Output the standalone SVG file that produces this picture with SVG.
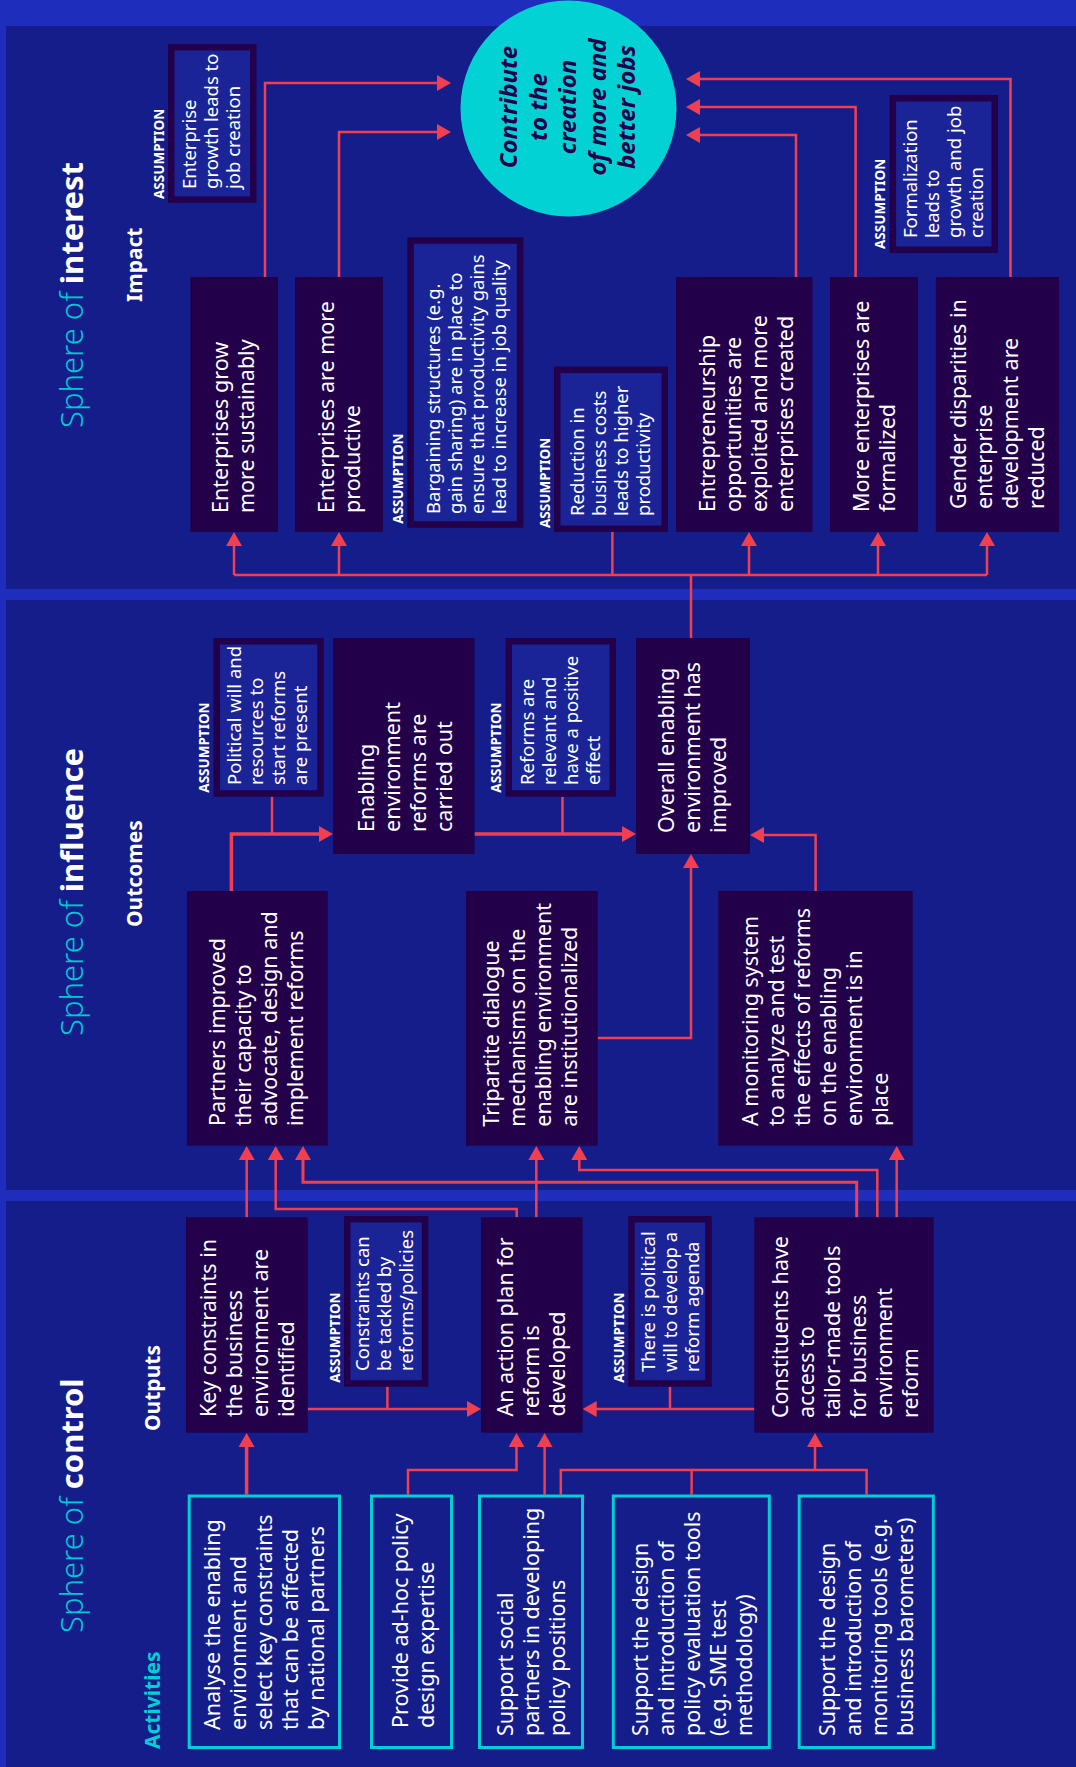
<svg xmlns="http://www.w3.org/2000/svg" width="1076" height="1767" viewBox="0 0 1076 1767">
<defs>
<style>
.panel{fill:#151d8b}
.node{fill:#23004a}
.asm{fill:#1b2496;stroke:#23004a;stroke-width:6.5}
.act{fill:#151d8b;stroke:#00cfd3;stroke-width:3}
text{font-family:"Noto Sans","Open Sans","Liberation Sans",sans-serif}
.nt{font-size:21.5px;fill:#ffffff}
.at{font-size:18.5px;fill:#ffffff}
.al{font-size:13.5px;font-weight:700;fill:#ffffff}
.hd{font-size:21px;font-weight:700;fill:#ffffff}
.ttl{font-size:31px}
.lt{font-weight:300;fill:#00c8d2}
.bd{font-weight:700;fill:#ffffff}
.ct{font-size:24px;font-weight:700;font-style:italic;fill:#23004a;text-anchor:middle}
.c{fill:none;stroke:#f23f4f;stroke-width:2.5}
.k{stroke-width:3.5}
.m{stroke-width:3}
</style>
<marker id="ah" viewBox="0 0 14 16" refX="10" refY="8" markerWidth="14" markerHeight="16" markerUnits="userSpaceOnUse" orient="auto"><path d="M0,0 L14,8 L0,16 z" fill="#f23f4f"/></marker>
</defs>

<rect x="0" y="0" width="1076" height="1767" fill="#1f2dbd"/>
<rect class="panel" x="6" y="26" width="1070" height="563"/>
<rect class="panel" x="6" y="600" width="1070" height="590"/>
<rect class="panel" x="6" y="1201" width="1070" height="566"/>

<g id="titles">
<text class="ttl" transform="translate(82.6,428) rotate(-90)"><tspan class="lt">Sphere of </tspan><tspan class="bd">interest</tspan></text>
<text class="ttl" transform="translate(82.6,1036) rotate(-90)"><tspan class="lt">Sphere of </tspan><tspan class="bd">influence</tspan></text>
<text class="ttl" transform="translate(82.6,1633) rotate(-90)"><tspan class="lt">Sphere of </tspan><tspan class="bd">control</tspan></text>
<text class="hd" transform="translate(142,302) rotate(-90)">Impact</text>
<text class="hd" transform="translate(142,927) rotate(-90)">Outcomes</text>
<text class="hd" transform="translate(160,1431) rotate(-90)">Outputs</text>
<text class="hd" transform="translate(160,1749) rotate(-90)" style="fill:#00cfd3">Activities</text>
</g>

<g id="connectors" marker-end="url(#ah)">
<path class="c" d="M265,277 V83 H447"/>
<path class="c" d="M339,277 V132 H447"/>
<path class="c" d="M1010.5,277 V79 H690"/>
<path class="c" d="M855.6,277 V107 H690"/>
<path class="c" d="M796,277 V135 H690"/>
<path class="c" d="M234,575 H987" marker-end="none"/>
<path class="c" d="M234,575 V536"/>
<path class="c" d="M339,575 V536"/>
<path class="c" d="M749,575 V536"/>
<path class="c" d="M878,575 V536"/>
<path class="c" d="M987,575 V536"/>
<path class="c" d="M612.4,532 V575" marker-end="none"/>
<path class="c" d="M691,638 V575" marker-end="none"/>

<path class="c k" d="M231.4,891 V834 H329"/>
<path class="c" d="M272,796.7 V834" marker-end="none"/>
<path class="c k" d="M474.5,834 H632"/>
<path class="c" d="M562.5,796.7 V834" marker-end="none"/>
<path class="c" d="M815.6,891 V835 H754"/>
<path class="c" d="M597.7,1038 H691 V858"/>

<path class="c" d="M246.7,1217.3 V1150"/>
<path class="c" d="M516.7,1217.3 V1209 H275.7 V1150"/>
<path class="c" d="M536.3,1217.3 V1150"/>
<path class="c m" d="M856.7,1217.3 V1182.3 H303 V1150"/>
<path class="c" d="M877.3,1217.3 V1170 H579.3 V1150"/>
<path class="c" d="M896.7,1217.3 V1150"/>

<path class="c" d="M307.7,1409 H477"/>
<path class="c" d="M387.4,1386.7 V1409" marker-end="none"/>
<path class="c" d="M754.3,1409 H586.7"/>
<path class="c" d="M670,1386.7 V1409" marker-end="none"/>
<path class="c k" d="M246.6,1494.5 V1437"/>
<path class="c" d="M408,1494.5 V1470 H516.5 V1437"/>
<path class="c" d="M544.6,1494.5 V1437"/>
<path class="c" d="M560.8,1494.5 V1470 H866.6 V1494.5" marker-end="none"/>
<path class="c" d="M691.6,1494.5 V1470" marker-end="none"/>
<path class="c" d="M815,1470 V1437"/>
</g>

<g id="goal">
<circle cx="568.5" cy="108.5" r="108" fill="#03d2d4"/>
<text class="ct" transform="translate(517,107) rotate(-90)"><tspan x="0" y="0">Contribute</tspan><tspan x="0" y="29.5">to the</tspan><tspan x="0" y="59">creation</tspan><tspan x="0" y="88.5">of more and</tspan><tspan x="0" y="118">better jobs</tspan></text>
</g>

<g id="n-grow"><rect class="node" x="190.4" y="277" width="87.6" height="255"/>
<text class="nt" transform="translate(227.5,513) rotate(-90)"><tspan x="0" y="0">Enterprises grow</tspan><tspan x="0" y="26">more sustainably</tspan></text></g>
<g id="n-prod"><rect class="node" x="295" y="277" width="88" height="255"/>
<text class="nt" transform="translate(334,513) rotate(-90)"><tspan x="0" y="0">Enterprises are more</tspan><tspan x="0" y="26">productive</tspan></text></g>
<g id="n-entre"><rect class="node" x="676" y="277" width="136.5" height="255"/>
<text class="nt" transform="translate(715,512) rotate(-90)"><tspan x="0" y="0">Entrepreneurship</tspan><tspan x="0" y="26">opportunities are</tspan><tspan x="0" y="52">exploited and more</tspan><tspan x="0" y="78">enterprises created</tspan></text></g>
<g id="n-formal"><rect class="node" x="830" y="277" width="88" height="255"/>
<text class="nt" transform="translate(869,512) rotate(-90)"><tspan x="0" y="0">More enterprises are</tspan><tspan x="0" y="26">formalized</tspan></text></g>
<g id="n-gender"><rect class="node" x="935.8" y="277" width="123.2" height="255"/>
<text class="nt" transform="translate(966,509) rotate(-90)"><tspan x="0" y="0">Gender disparities in</tspan><tspan x="0" y="26">enterprise</tspan><tspan x="0" y="52">development are</tspan><tspan x="0" y="78">reduced</tspan></text></g>

<g id="a-growth"><rect class="asm" x="171.25" y="47.25" width="82" height="152.5"/>
<text class="al" transform="translate(163.5,199) rotate(-90)">ASSUMPTION</text>
<text class="at" transform="translate(196,189) rotate(-90)"><tspan x="0" y="0">Enterprise</tspan><tspan x="0" y="22">growth leads to</tspan><tspan x="0" y="44">job creation</tspan></text></g>
<g id="a-barg"><rect class="asm" x="410.55" y="240.55" width="109.5" height="283.9"/>
<text class="al" transform="translate(403,523.7) rotate(-90)">ASSUMPTION</text>
<text class="at" transform="translate(440,514) rotate(-90)"><tspan x="0" y="0">Bargaining structures (e.g.</tspan><tspan x="0" y="22">gain sharing) are in place to</tspan><tspan x="0" y="44">ensure that productivity gains</tspan><tspan x="0" y="66">lead to increase in job quality</tspan></text></g>
<g id="a-red"><rect class="asm" x="557.25" y="369.85" width="107.5" height="158.9"/>
<text class="al" transform="translate(549.5,528) rotate(-90)">ASSUMPTION</text>
<text class="at" transform="translate(584,516) rotate(-90)"><tspan x="0" y="0">Reduction in</tspan><tspan x="0" y="22">business costs</tspan><tspan x="0" y="44">leads to higher</tspan><tspan x="0" y="66">productivity</tspan></text></g>
<g id="a-form"><rect class="asm" x="892.85" y="98.25" width="101.9" height="151.5"/>
<text class="al" transform="translate(885,249) rotate(-90)">ASSUMPTION</text>
<text class="at" transform="translate(916.5,238) rotate(-90)"><tspan x="0" y="0">Formalization</tspan><tspan x="0" y="22">leads to</tspan><tspan x="0" y="44">growth and job</tspan><tspan x="0" y="66">creation</tspan></text></g>

<g id="n-partners"><rect class="node" x="187" y="891" width="140.7" height="254.7"/>
<text class="nt" transform="translate(225,1126) rotate(-90)"><tspan x="0" y="0">Partners improved</tspan><tspan x="0" y="26">their capacity to</tspan><tspan x="0" y="52">advocate, design and</tspan><tspan x="0" y="78">implement reforms</tspan></text></g>
<g id="n-enabling"><rect class="node" x="333" y="638" width="141.5" height="216"/>
<text class="nt" transform="translate(374,832) rotate(-90)"><tspan x="0" y="0">Enabling</tspan><tspan x="0" y="26">environment</tspan><tspan x="0" y="52">reforms are</tspan><tspan x="0" y="78">carried out</tspan></text></g>
<g id="n-overall"><rect class="node" x="636" y="638" width="114" height="216"/>
<text class="nt" transform="translate(674,833) rotate(-90)"><tspan x="0" y="0">Overall enabling</tspan><tspan x="0" y="26">environment has</tspan><tspan x="0" y="52">improved</tspan></text></g>
<g id="n-tri"><rect class="node" x="466" y="891" width="131.7" height="254.7"/>
<text class="nt" transform="translate(499,1126.7) rotate(-90)"><tspan x="0" y="0">Tripartite dialogue</tspan><tspan x="0" y="26">mechanisms on the</tspan><tspan x="0" y="52">enabling environment</tspan><tspan x="0" y="78">are institutionalized</tspan></text></g>
<g id="n-mon"><rect class="node" x="718.3" y="891" width="194.4" height="254.7"/>
<text class="nt" transform="translate(758,1126) rotate(-90)"><tspan x="0" y="0">A monitoring system</tspan><tspan x="0" y="26">to analyze and test</tspan><tspan x="0" y="52">the effects of reforms</tspan><tspan x="0" y="78">on the enabling</tspan><tspan x="0" y="104">environment is in</tspan><tspan x="0" y="130">place</tspan></text></g>
<g id="a-pol"><rect class="asm" x="216.75" y="641.25" width="103.7" height="152.2"/>
<text class="al" transform="translate(209,792.7) rotate(-90)">ASSUMPTION</text>
<text class="at" transform="translate(241,785) rotate(-90)"><tspan x="0" y="0">Political will and</tspan><tspan x="0" y="22">resources to</tspan><tspan x="0" y="44">start reforms</tspan><tspan x="0" y="66">are present</tspan></text></g>
<g id="a-ref"><rect class="asm" x="508.75" y="641.25" width="104" height="152.2"/>
<text class="al" transform="translate(501,792.7) rotate(-90)">ASSUMPTION</text>
<text class="at" transform="translate(533.7,785) rotate(-90)"><tspan x="0" y="0">Reforms are</tspan><tspan x="0" y="22">relevant and</tspan><tspan x="0" y="44">have a positive</tspan><tspan x="0" y="66">effect</tspan></text></g>

<g id="n-key"><rect class="node" x="186" y="1217.3" width="121.7" height="215.4"/>
<text class="nt" transform="translate(216,1417) rotate(-90)"><tspan x="0" y="0">Key constraints in</tspan><tspan x="0" y="26">the business</tspan><tspan x="0" y="52">environment are</tspan><tspan x="0" y="78">identified</tspan></text></g>
<g id="n-action"><rect class="node" x="481" y="1217.3" width="101.7" height="215.4"/>
<text class="nt" transform="translate(513,1416.6) rotate(-90)"><tspan x="0" y="0">An action plan for</tspan><tspan x="0" y="26">reform is</tspan><tspan x="0" y="52">developed</tspan></text></g>
<g id="n-const"><rect class="node" x="754.3" y="1217.3" width="179.4" height="215.4"/>
<text class="nt" transform="translate(788,1418) rotate(-90)"><tspan x="0" y="0">Constituents have</tspan><tspan x="0" y="26">access to</tspan><tspan x="0" y="52">tailor-made tools</tspan><tspan x="0" y="78">for business</tspan><tspan x="0" y="104">environment</tspan><tspan x="0" y="130">reform</tspan></text></g>
<g id="a-con"><rect class="asm" x="347.25" y="1219.25" width="77.8" height="164.2"/>
<text class="al" transform="translate(339.5,1382.7) rotate(-90)">ASSUMPTION</text>
<text class="at" transform="translate(369,1371) rotate(-90)"><tspan x="0" y="0">Constraints can</tspan><tspan x="0" y="22">be tackled by</tspan><tspan x="0" y="44">reforms/policies</tspan></text></g>
<g id="a-pw"><rect class="asm" x="631.55" y="1219.25" width="76.9" height="164.2"/>
<text class="al" transform="translate(623.8,1382.7) rotate(-90)">ASSUMPTION</text>
<text class="at" transform="translate(654.5,1372) rotate(-90)"><tspan x="0" y="0">There is political</tspan><tspan x="0" y="22">will to develop a</tspan><tspan x="0" y="44">reform agenda</tspan></text></g>

<g id="act1"><rect class="act" x="189.2" y="1496" width="150.3" height="251.5"/>
<text class="nt" transform="translate(220,1730) rotate(-90)"><tspan x="0" y="0">Analyse the enabling</tspan><tspan x="0" y="26">environment and</tspan><tspan x="0" y="52">select key constraints</tspan><tspan x="0" y="78">that can be affected</tspan><tspan x="0" y="104">by national partners</tspan></text></g>
<g id="act2"><rect class="act" x="371.5" y="1496" width="80" height="251.5"/>
<text class="nt" transform="translate(408,1728) rotate(-90)"><tspan x="0" y="0">Provide ad-hoc policy</tspan><tspan x="0" y="26">design expertise</tspan></text></g>
<g id="act3"><rect class="act" x="479.5" y="1496" width="103" height="251.5"/>
<text class="nt" transform="translate(513,1736) rotate(-90)"><tspan x="0" y="0">Support social</tspan><tspan x="0" y="26">partners in developing</tspan><tspan x="0" y="52">policy positions</tspan></text></g>
<g id="act4"><rect class="act" x="613.3" y="1496" width="156" height="251.5"/>
<text class="nt" transform="translate(647.5,1736) rotate(-90)"><tspan x="0" y="0">Support the design</tspan><tspan x="0" y="26">and introduction of</tspan><tspan x="0" y="52">policy evaluation tools</tspan><tspan x="0" y="78">(e.g. SME test</tspan><tspan x="0" y="104">methodology)</tspan></text></g>
<g id="act5"><rect class="act" x="799.2" y="1496" width="134.1" height="251.5"/>
<text class="nt" transform="translate(834.5,1736) rotate(-90)"><tspan x="0" y="0">Support the design</tspan><tspan x="0" y="26">and introduction of</tspan><tspan x="0" y="52">monitoring tools (e.g.</tspan><tspan x="0" y="78">business barometers)</tspan></text></g>
</svg>
